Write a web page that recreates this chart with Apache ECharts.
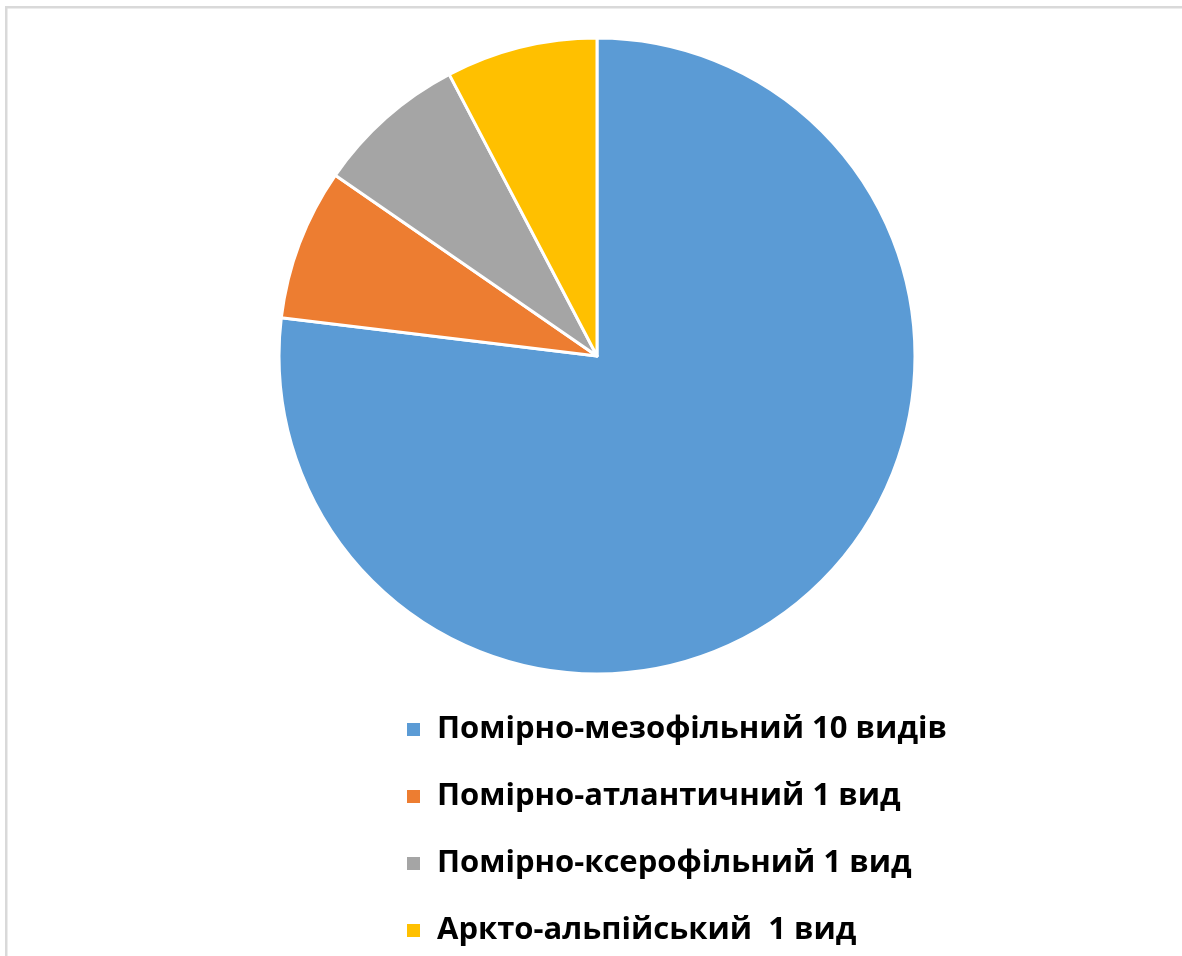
<!DOCTYPE html>
<html><head><meta charset="utf-8">
<script src="https://cdn.jsdelivr.net/npm/echarts@6/dist/echarts.min.js"></script>
<style>html,body{margin:0;padding:0;background:#fff}#c{width:1182px;height:956px}</style>
</head><body><div id="c"></div>
<script>
const categories = ['Помірно-мезофільний 10 видів','Помірно-атлантичний 1 вид','Помірно-ксерофільний 1 вид','Аркто-альпійський  1 вид'];
const values = [10, 1, 1, 1];
const colors = ['#5B9BD5','#ED7D31','#A5A5A5','#FFC000'];
const chart = echarts.init(document.getElementById('c'));
chart.setOption({
  animation: false,
  backgroundColor: '#fff',
  graphic: [
    {type:'rect', shape:{x:5, y:6, width:2.5, height:950}, style:{fill:'#d9d9d9'}},
    {type:'rect', shape:{x:5, y:6, width:1177, height:2.5}, style:{fill:'#d9d9d9'}}
  ],
  legend: {
    orient: 'vertical',
    left: 400,
    top: 709,
    icon: 'rect',
    itemWidth: 15,
    itemHeight: 15,
    itemGap: 36,
    textStyle: {fontFamily: 'Open Sans', fontWeight: 'bold', fontSize: 31, color: '#000', lineHeight: 31, padding:[0,0,0,11]},
    data: categories
  },
  series: [{
    type: 'pie',
    center: [597, 356],
    radius: [0, 318],
    startAngle: 90,
    clockwise: true,
    label: {show: false},
    labelLine: {show: false},
    itemStyle: {borderColor: '#fff', borderWidth: 3},
    data: categories.map((n,i)=>({name:n, value:values[i], itemStyle:{color:colors[i]}}))
  }]
});
</script></body></html>
